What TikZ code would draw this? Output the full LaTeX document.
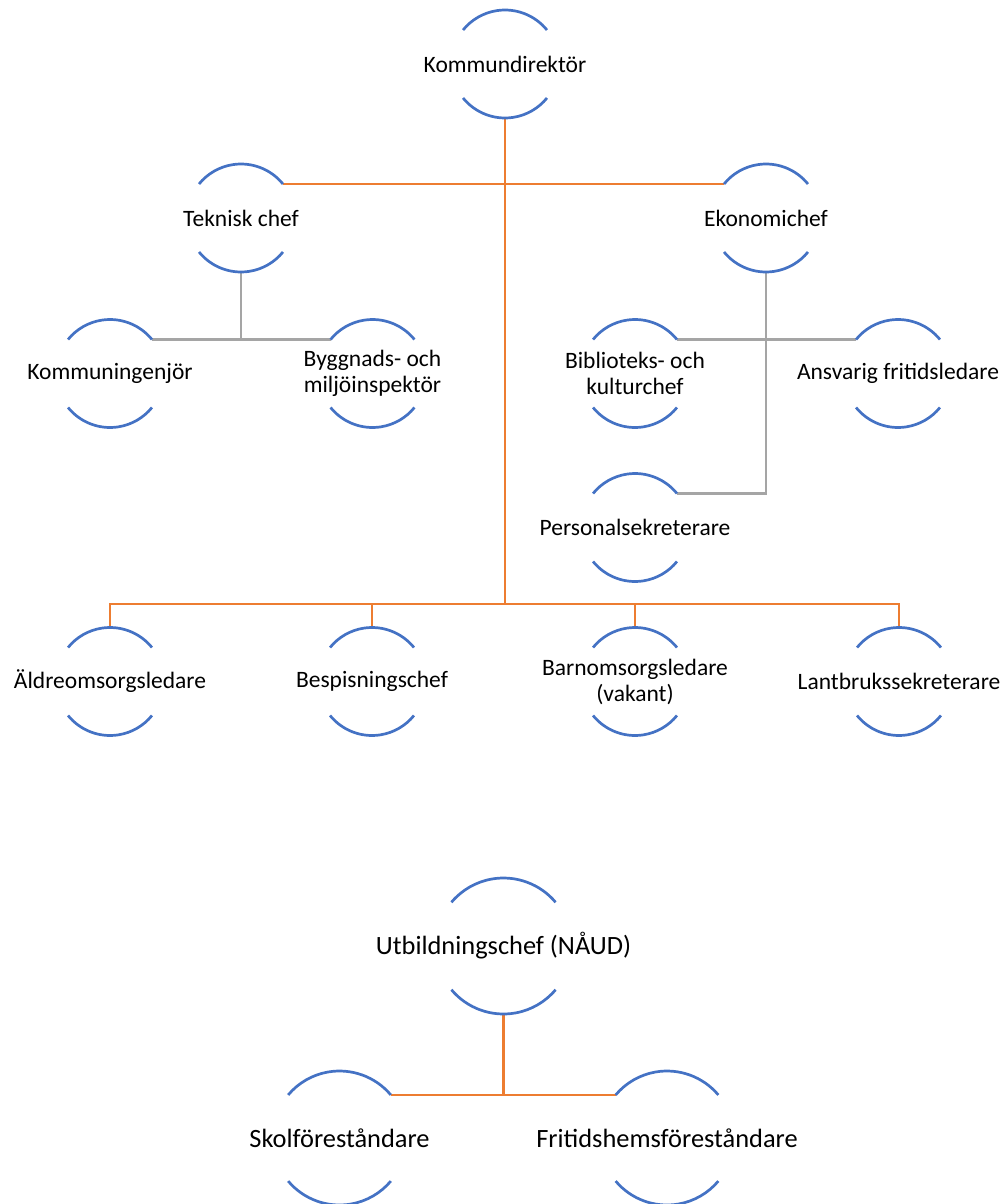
\documentclass[tikz,border=0pt]{standalone}
\usepackage{fontspec}
\setmainfont{Carlito}
\definecolor{arcblue}{HTML}{4472C4}
\definecolor{lineorange}{HTML}{ED7D31}
\definecolor{linegray}{HTML}{A5A5A5}
\begin{document}
\begin{tikzpicture}[x=1pt,y=1pt,
  person/.style={circle, minimum size=108pt, inner sep=0pt, outer sep=0pt},
  bigperson/.style={circle, minimum size=#1, inner sep=0pt, outer sep=0pt},
  lbl/.style={align=center, font=\fontsize{23.5}{26}\selectfont, text=black, inner sep=0pt},
  biglbl/.style={align=center, font=\fontsize{26.4}{30}\selectfont, text=black, inner sep=0pt},
  arcline/.style={draw=arcblue, line width=2.7pt},
  orangeline/.style={draw=lineorange, line width=2.7pt},
  grayline/.style={draw=linegray, line width=2.7pt}]
\useasboundingbox (0,0) rectangle (1008,-1204);

% first chart
\node[person, label={[lbl]center:Kommundirektör}] (k) at (505,-64) {};
\node[person, label={[lbl]center:Teknisk chef}] (t) at (241,-218) {};
\node[person, label={[lbl]center:Ekonomichef}] (e) at (766,-218) {};
\node[person, label={[lbl]center:Kommuningenjör}] (ki) at (110,-373.5) {};
\node[person, label={[lbl]center:{Byggnads- och\\miljöinspektör}}] (bg) at (372.5,-373.5) {};
\node[person, label={[lbl]center:{Biblioteks- och\\kulturchef}}] (bk) at (635,-373.5) {};
\node[person, label={[lbl]center:Ansvarig fritidsledare}] (af) at (898,-373.5) {};
\node[person, label={[lbl]center:Personalsekreterare}] (ps) at (635,-527.5) {};
\node[person, label={[lbl]center:Äldreomsorgsledare}] (al) at (110,-681.5) {};
\node[person, label={[lbl]center:Bespisningschef}] (bs) at (372,-681.5) {};
\node[person, label={[lbl]center:{Barnomsorgsledare\\(vakant)}}] (bo) at (635,-681.5) {};
\node[person, label={[lbl]center:Lantbrukssekreterare}] (lb) at (899,-681.5) {};

% second chart
\node[bigperson=136pt, label={[biglbl]center:Utbildningschef (NÅUD)}] (u) at (503.5,-946) {};
\node[bigperson=134pt, label={[biglbl]center:Skolföreståndare}] (s) at (339.5,-1138) {};
\node[bigperson=134pt, label={[biglbl]center:Fritidshemsföreståndare}] (f) at (667,-1138) {};

% connectors
\coordinate (bar) at (505,-604);
\draw[orangeline] (k.south) -- (bar);
\draw[orangeline] (t.39) -- (e.141);
\draw[orangeline] (al.north) |- (bar) -| (lb.north);
\draw[orangeline] (bs.north) -- (bs.north |- bar);
\draw[orangeline] (bo.north) -- (bo.north |- bar);

\draw[grayline] (t.south) -- (t.south |- ki.39);
\draw[grayline] (ki.39) -- (bg.141);
\draw[grayline] (e.south) |- (ps.39);
\draw[grayline] (bk.39) -- (af.141);

\draw[orangeline] (u.south) -- (u.south |- s.40);
\draw[orangeline] (s.40) -- (f.140);

% arcs
\foreach \n in {k,t,e,ki,bg,bk,af,ps,al,bs,bo,lb} {
  \draw[arcline] (\n.39) arc (39:141:54);
  \draw[arcline] (\n.219) arc (219:321:54);
}
\draw[arcline] (u.40) arc (40:140:68);
\draw[arcline] (u.220) arc (220:320:68);
\foreach \n in {s,f} {
  \draw[arcline] (\n.40) arc (40:140:67);
  \draw[arcline] (\n.220) arc (220:320:67);
}
\end{tikzpicture}
\end{document}
